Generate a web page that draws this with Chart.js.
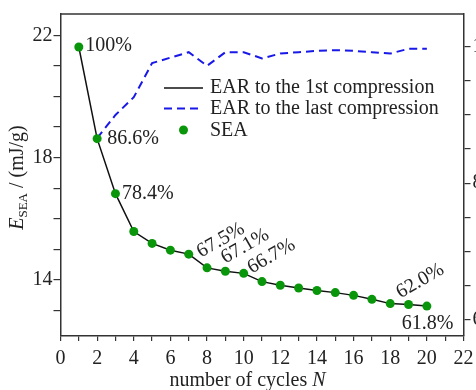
<!DOCTYPE html>
<html>
<head>
<meta charset="utf-8">
<script src="https://cdn.jsdelivr.net/npm/chart.js@4.4.1/dist/chart.umd.min.js"></script>
<style>
  html, body { margin: 0; padding: 0; background: #fff; overflow: hidden; }
  #wrap { width: 520px; height: 390px; }
</style>
</head>
<body>
<div id="wrap"><canvas id="cyclesChart" width="520" height="390"></canvas></div>
<script>
// values
const cycles = [1, 2, 3, 4, 5, 6, 7, 8, 9, 10, 11, 12, 13, 14, 15, 16, 17, 18, 19, 20];
const seaValues = [21.62, 18.62, 16.82, 15.58, 15.19, 14.97, 14.84, 14.39, 14.28, 14.21,
                   13.94, 13.82, 13.73, 13.65, 13.58, 13.49, 13.36, 13.22, 13.19, 13.14];
const earLastCycles = [2, 3, 4, 5, 6, 7, 8, 9, 10, 11, 12, 13, 14, 15, 16, 17, 18, 19, 20];
const earLastValues = [86.6, 90.0, 92.6, 97.6, 98.4, 99.2, 97.2, 99.2, 99.2, 98.3,
                       99.0, 99.2, 99.4, 99.5, 99.4, 99.2, 99.0, 99.7, 99.7];
const pctLabels = ['100%', '86.6%', '78.4%', '67.5%', '67.1%', '66.7%', '62.0%', '61.8%'];
const pctLabelCycles = [1, 2, 3, 8, 9, 10, 19, 20];
const seriesNames = ['EAR to the 1st compression', 'EAR to the last compression', 'SEA'];

const xTicks = [0, 1, 2, 3, 4, 5, 6, 7, 8, 9, 10, 11, 12, 13, 14, 15, 16, 17, 18, 19, 20, 21, 22];
const xTickLabels = [0, 2, 4, 6, 8, 10, 12, 14, 16, 18, 20, 22];
const yTicks = [13, 14, 15, 16, 17, 18, 19, 20, 21, 22];
const yTickLabels = [14, 18, 22];
const y2Ticks = [60, 65, 70, 75, 80, 85, 90, 95, 100];
const y2TickLabels = [60, 80, 100];

// label placement (pixel offset from its point, rotation in degrees)
const labelPlacement = [
    { dx: 6.5, dy: 4, rot: 0 },
    { dx: 10, dy: 5, rot: 0 },
    { dx: 6.5, dy: 5, rot: 0 },
    { dx: -6, dy: -10, rot: -30 },
    { dx: 0, dy: -7.5, rot: -30 },
    { dx: 8, dy: 0.5, rot: -30 },
    { dx: -8, dy: -6, rot: -30 },
    { dx: -25, dy: 22.5, rot: 0 }
];

const SERIF = '"Liberation Serif", "Times New Roman", serif';
const TEXT = '#222';
const AXIS = '#333';
const GREEN = '#0a960a';
const BLUE = '#1818e8';

const frameAndText = {
    id: 'frameAndText',
    afterDatasetsDraw(chart) {
        const ctx = chart.ctx;
        const area = chart.chartArea;
        const xs = chart.scales.x, ys = chart.scales.y;
        ctx.save();

        // top edge of the frame
        ctx.strokeStyle = AXIS;
        ctx.lineWidth = 1.5;
        ctx.beginPath();
        ctx.moveTo(area.left, area.top);
        ctx.lineTo(area.right, area.top);
        ctx.stroke();

        // percentage labels next to the points
        ctx.fillStyle = TEXT;
        ctx.font = '20px ' + SERIF;
        ctx.textAlign = 'left';
        ctx.textBaseline = 'alphabetic';
        pctLabels.forEach((txt, i) => {
            const c = pctLabelCycles[i];
            const px = xs.getPixelForValue(c);
            const py = ys.getPixelForValue(seaValues[cycles.indexOf(c)]);
            const p = labelPlacement[i];
            ctx.save();
            ctx.translate(px + p.dx, py + p.dy);
            ctx.rotate(p.rot * Math.PI / 180);
            ctx.fillText(txt, 0, 0);
            ctx.restore();
        });

        // legend
        const lx0 = 164, lx1 = 203, tx = 210;
        ctx.lineWidth = 1.5;
        ctx.strokeStyle = '#111';
        ctx.beginPath();
        ctx.moveTo(lx0, 88); ctx.lineTo(lx1, 88);
        ctx.stroke();
        ctx.strokeStyle = BLUE;
        ctx.lineWidth = 2;
        ctx.setLineDash([8, 5]);
        ctx.beginPath();
        ctx.moveTo(lx0, 108.5); ctx.lineTo(lx1, 108.5);
        ctx.stroke();
        ctx.setLineDash([]);
        ctx.fillStyle = GREEN;
        ctx.beginPath();
        ctx.arc(183.5, 130, 4.5, 0, Math.PI * 2);
        ctx.fill();
        ctx.fillStyle = TEXT;
        ctx.fillText(seriesNames[0], tx, 93);
        ctx.fillText(seriesNames[1], tx, 114);
        ctx.fillText(seriesNames[2], tx, 135.5);

        // x axis title
        const part1 = 'number of cycles ';
        ctx.font = '20px ' + SERIF;
        const w1 = ctx.measureText(part1).width;
        ctx.font = 'italic 20px ' + SERIF;
        const w2 = ctx.measureText('N').width;
        let sx = 247.5 - (w1 + w2) / 2;
        ctx.font = '20px ' + SERIF;
        ctx.fillText(part1, sx, 386);
        ctx.font = 'italic 20px ' + SERIF;
        ctx.fillText('N', sx + w1, 386);

        // y axis title
        const pieces = [
            { t: 'E', f: 'italic 20px ' + SERIF, off: 0 },
            { t: 'SEA', f: '13px ' + SERIF, off: 4 },
            { t: ' / (mJ/g)', f: '20px ' + SERIF, off: 0 }
        ];
        let total = 0;
        pieces.forEach(p => { ctx.font = p.f; p.w = ctx.measureText(p.t).width; total += p.w; });
        ctx.translate(23, 177.5);
        ctx.rotate(-Math.PI / 2);
        let cx = -total / 2;
        pieces.forEach(p => {
            ctx.font = p.f;
            ctx.fillText(p.t, cx, p.off);
            cx += p.w;
        });
        ctx.restore();
    }
};

const ctx = document.getElementById('cyclesChart');
new Chart(ctx, {
    type: 'line',
    data: {
        datasets: [
            {
                label: seriesNames[2],
                data: cycles.map((c, i) => ({ x: c, y: seaValues[i] })),
                showLine: false,
                pointRadius: 4.5,
                pointBackgroundColor: GREEN,
                pointBorderColor: GREEN,
                pointBorderWidth: 0,
                yAxisID: 'y',
                order: 0
            },
            {
                label: seriesNames[0],
                data: cycles.map((c, i) => ({ x: c, y: seaValues[i] })),
                borderColor: '#111',
                borderWidth: 1.5,
                pointRadius: 0,
                tension: 0,
                yAxisID: 'y',
                order: 1
            },
            {
                label: seriesNames[1],
                data: earLastCycles.map((c, i) => ({ x: c, y: earLastValues[i] })),
                borderColor: BLUE,
                borderWidth: 2,
                borderDash: [8, 5],
                pointRadius: 0,
                tension: 0,
                yAxisID: 'y2',
                order: 2
            }
        ]
    },
    options: {
        responsive: false,
        animation: false,
        layout: { padding: { top: 11, left: 0, right: 0, bottom: 0 } },
        plugins: {
            legend: { display: false },
            tooltip: { enabled: false }
        },
        scales: {
            x: {
                type: 'linear',
                min: 0,
                max: 22,
                afterBuildTicks: s => { s.ticks = xTicks.map(v => ({ value: v })); },
                afterFit: s => { s.height = 54; },
                ticks: {
                    autoSkip: false,
                    maxRotation: 0,
                    padding: 6,
                    color: TEXT,
                    font: { family: SERIF, size: 20 },
                    callback: v => xTickLabels.includes(v) ? String(v) : ''
                },
                grid: { drawOnChartArea: false, tickLength: 5, color: AXIS, lineWidth: 1.2 },
                border: { color: AXIS, width: 1.5 }
            },
            y: {
                position: 'left',
                min: 12.16,
                max: 22.7,
                afterBuildTicks: s => { s.ticks = yTicks.map(v => ({ value: v })); },
                afterFit: s => { s.width = 60.5; },
                ticks: {
                    autoSkip: false,
                    padding: 1,
                    color: TEXT,
                    font: { family: SERIF, size: 20 },
                    callback: v => yTickLabels.includes(v) ? String(v) : ''
                },
                grid: { drawOnChartArea: false, tickLength: 7, color: AXIS, lineWidth: 1.2 },
                border: { color: AXIS, width: 1.5 }
            },
            y2: {
                position: 'right',
                min: 57.6,
                max: 104.8,
                afterBuildTicks: s => { s.ticks = y2Ticks.map(v => ({ value: v })); },
                afterFit: s => { s.width = 520 - 463.5; },
                ticks: {
                    autoSkip: false,
                    padding: 2,
                    color: TEXT,
                    font: { family: SERIF, size: 20 },
                    callback: v => y2TickLabels.includes(v) ? String(v) : ''
                },
                grid: { drawOnChartArea: false, tickLength: 7, color: AXIS, lineWidth: 1.2 },
                border: { color: AXIS, width: 1.5 }
            }
        }
    },
    plugins: [frameAndText]
});
</script>
</body>
</html>
